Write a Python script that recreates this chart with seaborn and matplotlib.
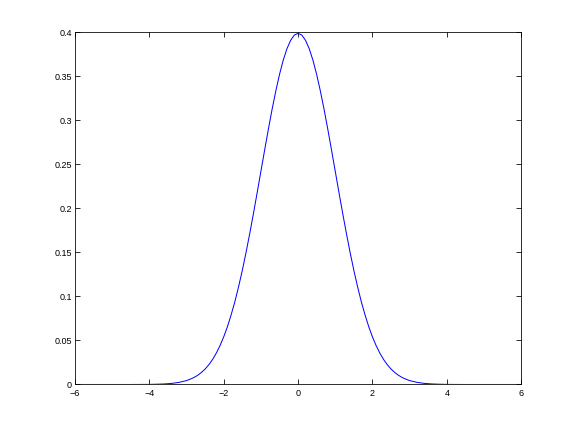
import pandas as pd
import seaborn as sns
import matplotlib.pyplot as plt

# values (standard normal density)
x_vals = [-6.0, -5.0, -4.5, -4.0, -3.8, -3.6, -3.4, -3.2, -3.0, -2.9, -2.8, -2.7, -2.6, -2.5,
          -2.4, -2.3, -2.2, -2.1, -2.0, -1.9, -1.8, -1.7, -1.6, -1.5, -1.4, -1.3, -1.2,
          -1.1, -1.0, -0.9, -0.8, -0.7, -0.6, -0.5, -0.4, -0.3, -0.2, -0.1, 0.0,
          0.1, 0.2, 0.3, 0.4, 0.5, 0.6, 0.7, 0.8, 0.9, 1.0, 1.1, 1.2, 1.3, 1.4, 1.5,
          1.6, 1.7, 1.8, 1.9, 2.0, 2.1, 2.2, 2.3, 2.4, 2.5, 2.6, 2.7, 2.8, 2.9, 3.0,
          3.2, 3.4, 3.6, 3.8, 4.0, 4.5, 5.0, 6.0]
y_vals = [0.0, 0.0, 0.0, 0.0001, 0.0003, 0.0006, 0.0012, 0.0024, 0.0044, 0.0060, 0.0079, 0.0104, 0.0136, 0.0175,
          0.0224, 0.0283, 0.0355, 0.0440, 0.0540, 0.0656, 0.0790, 0.0940, 0.1109, 0.1295, 0.1497, 0.1714, 0.1942,
          0.2179, 0.2420, 0.2661, 0.2897, 0.3123, 0.3332, 0.3521, 0.3683, 0.3814, 0.3910, 0.3970, 0.3989,
          0.3970, 0.3910, 0.3814, 0.3683, 0.3521, 0.3332, 0.3123, 0.2897, 0.2661, 0.2420, 0.2179, 0.1942, 0.1714, 0.1497, 0.1295,
          0.1109, 0.0940, 0.0790, 0.0656, 0.0540, 0.0440, 0.0355, 0.0283, 0.0224, 0.0175, 0.0136, 0.0104, 0.0079, 0.0060, 0.0044,
          0.0024, 0.0012, 0.0006, 0.0003, 0.0001, 0.0, 0.0, 0.0]
x_ticks = [-6, -4, -2, 0, 2, 4, 6]
y_ticks = [0, 0.05, 0.1, 0.15, 0.2, 0.25, 0.3, 0.35, 0.4]
y_labels = ["0", "0.05", "0.1", "0.15", "0.2", "0.25", "0.3", "0.35", "0.4"]

sns.set_style("white")
plt.rcParams['font.family'] = ['Liberation Sans', 'DejaVu Sans']

df = pd.DataFrame({"x": x_vals, "y": y_vals})

fig = plt.figure(figsize=(8, 6), dpi=72)
ax = fig.add_axes([0.13, 0.11, 0.775, 0.815])
sns.lineplot(data=df, x="x", y="y", ax=ax, color="#0000ff", linewidth=1)

ax.set_xlim(-6, 6)
ax.set_ylim(0, 0.4)
ax.set_xticks(x_ticks)
ax.set_xticklabels([str(t).replace("-", "\u2212") for t in x_ticks])
ax.set_yticks(y_ticks)
ax.set_yticklabels(y_labels)
ax.set_xlabel("")
ax.set_ylabel("")
ax.tick_params(direction="in", length=5, width=0.8, top=True, right=True,
               bottom=True, left=True, labelsize=9, colors="black")
ax.tick_params(axis="x", pad=5)
ax.tick_params(axis="y", pad=3)
for s in ax.spines.values():
    s.set_color("black")
    s.set_linewidth(0.8)

fig.savefig("out.png", dpi=72, facecolor="white")
